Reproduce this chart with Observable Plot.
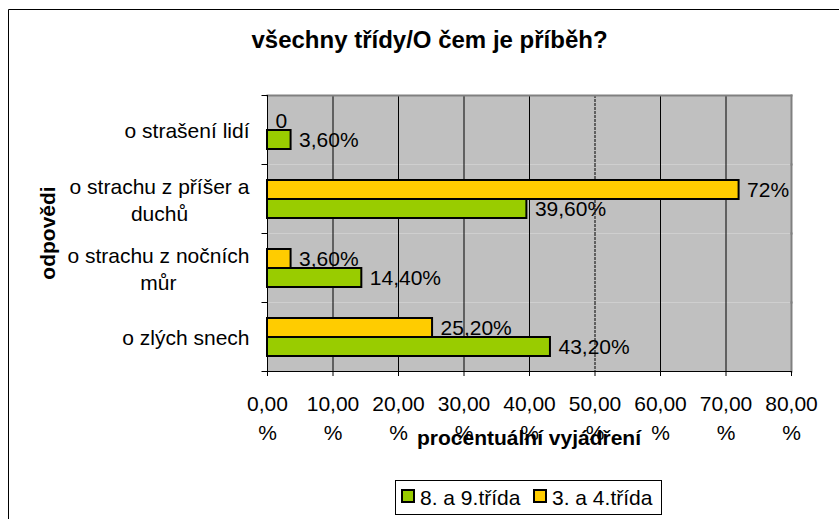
<!DOCTYPE html>
<html><head><meta charset="utf-8">
<script src="https://cdn.jsdelivr.net/npm/d3@7"></script>
<script src="https://cdn.jsdelivr.net/npm/@observablehq/plot@0.6"></script>
<style>
html,body{margin:0;padding:0;background:#fff;}
#chart{position:relative;width:839px;height:519px;overflow:hidden;background:#fff;}
#chart svg{font-family:"Liberation Sans",Arial,sans-serif;}
</style></head><body><div id="chart"></div>
<script>
const chartTitle = "všechny třídy/O čem je příběh?";
const xTitle = "procentuální vyjádření";
const yTitle = "odpovědi";
const categories = ["o strašení lidí", "o strachu z příšer a duchů", "o strachu z nočních můr", "o zlých snech"];
const categoryLabels = ["o strašení lidí", "o strachu z příšer a\nduchů", "o strachu z nočních\nmůr", "o zlých snech"];
const series = ["3. a 4.třída", "8. a 9.třída"];
const seriesColors = ["#FFCC00", "#99CC00"];
const valuesGrade34 = [0, 72, 3.6, 25.2];
const valuesGrade89 = [3.6, 39.6, 14.4, 43.2];
const labelsGrade34 = ["0", "72%", "3,60%", "25,20%"];
const labelsGrade89 = ["3,60%", "39,60%", "14,40%", "43,20%"];
const xTicks = [0, 10, 20, 30, 40, 50, 60, 70, 80];
const xTickLabels = ["0,00\n%", "10,00\n%", "20,00\n%", "30,00\n%", "40,00\n%", "50,00\n%", "60,00\n%", "70,00\n%", "80,00\n%"];
const legendOrder = ["8. a 9.třída", "3. a 4.třída"];

const rows = [];
categories.forEach((c, i) => {
  rows.push({category: c, series: series[0], value: valuesGrade34[i], label: labelsGrade34[i]});
  rows.push({category: c, series: series[1], value: valuesGrade89[i], label: labelsGrade89[i]});
});

const FONT = "Liberation Sans, Arial, sans-serif";
const leftTick = {draw(ctx) { ctx.moveTo(-6, 0); ctx.lineTo(0, 0); }};

const plot = Plot.plot({
  width: 839, height: 519,
  marginLeft: 267, marginRight: 48, marginTop: 94, marginBottom: 147,
  style: {fontFamily: FONT, fontSize: "21px", color: "#000", background: "transparent", overflow: "visible"},
  x: {domain: [0, 80], axis: null},
  y: {domain: series, paddingInner: 0, paddingOuter: 0.76, axis: null},
  fy: {domain: categories, padding: 0, axis: null},
  color: {domain: series, range: seriesColors},
  marks: [
    Plot.frame({fill: "#C0C0C0", stroke: null}),
    Plot.ruleX(xTicks.filter(d => d > 0 && d < 80 && d !== 50), {stroke: "#000", strokeWidth: 1}),
    Plot.ruleX(xTicks.filter(d => d === 50), {stroke: "#000", strokeWidth: 1, strokeDasharray: "3,1"}),
    Plot.barX(rows, {x: "value", y: "series", fy: "category", fill: "series", stroke: "#000", strokeWidth: 2}),
    Plot.text(rows, {x: "value", y: "series", fy: "category", text: "label", textAnchor: "start", dx: 8, fontSize: 21, fill: "#000"}),
    Plot.frame({anchor: "right", stroke: "#808080", strokeWidth: 2}),
    Plot.frame({anchor: "top", stroke: "#808080", strokeWidth: 2, facetAnchor: "top"}),
    Plot.ruleX([0], {stroke: "#000", strokeWidth: 1}),
    Plot.frame({anchor: "bottom", stroke: "#000", strokeWidth: 1, facetAnchor: "bottom"}),
    Plot.dot([0], {frameAnchor: "top-left", symbol: leftTick, r: 2, fill: "none", stroke: "#000", strokeWidth: 1}),
    Plot.dot([0], {frameAnchor: "bottom-left", symbol: leftTick, r: 2, fill: "none", stroke: "#000", strokeWidth: 1, facetAnchor: "bottom"}),
    Plot.axisX({ticks: xTicks, tickSize: 5, tickPadding: 14, tickFormat: d => xTickLabels[xTicks.indexOf(d)], fontSize: 21, lineHeight: 1.38, label: null, stroke: "#000"}),
    Plot.axisFy({anchor: "left", tickSize: 0, tickPadding: 18, tickFormat: d => categoryLabels[categories.indexOf(d)], fontSize: 21, lineHeight: 1.25, label: null})
  ]
});

document.getElementById("chart").appendChild(plot);

// center multi-line category labels within their block (Excel style)
d3.select(plot).selectAll('g[aria-label="fy-axis tick label"] text').each(function() {
  const spans = this.querySelectorAll("tspan");
  if (spans.length > 1) {
    const w = this.getBBox().width;
    this.setAttribute("text-anchor", "middle");
    spans.forEach(s => s.setAttribute("x", -w / 2));
  }
});

const svg = d3.select(plot);
const xs = plot.scale("x");
const plotLeft = xs.range[0], plotRight = xs.range[1];
const plotTop = 94, plotBottom = 372;

// outer chart border
svg.append("path").attr("d", "M8.5,600V9.5H900").attr("fill", "none").attr("stroke", "#000").attr("stroke-width", 1);

// title
svg.append("text").attr("x", 429.5).attr("y", 48).attr("text-anchor", "middle")
  .attr("font-size", 24).attr("font-weight", "bold").attr("fill", "#000").attr("font-family", FONT).text(chartTitle);

// y title
svg.append("text").attr("transform", `translate(55,${(plotTop + plotBottom) / 2}) rotate(-90)`).attr("text-anchor", "middle")
  .attr("font-size", 21).attr("font-weight", "bold").attr("fill", "#000").attr("font-family", FONT).text(yTitle);

// x title
svg.append("text").attr("x", (plotLeft + plotRight) / 2).attr("y", 445).attr("text-anchor", "middle")
  .attr("font-size", 21).attr("font-weight", "bold").attr("fill", "#000").attr("font-family", FONT).text(xTitle);

// legend
const lg = svg.append("g").attr("font-family", FONT).attr("font-size", 21).attr("text-anchor", "start");
lg.append("rect").attr("x", 395.5).attr("y", 480.5).attr("width", 266).attr("height", 34)
  .attr("fill", "#fff").attr("stroke", "#000").attr("stroke-width", 1);
const legendX = [402, 534];
legendOrder.forEach((s, i) => {
  lg.append("rect").attr("x", legendX[i]).attr("y", 490).attr("width", 12).attr("height", 12)
    .attr("fill", seriesColors[series.indexOf(s)]).attr("stroke", "#000").attr("stroke-width", 2);
  lg.append("text").attr("x", legendX[i] + 18).attr("y", 505).attr("text-anchor", "start").attr("fill", "#000").text(s);
});
</script></body></html>
